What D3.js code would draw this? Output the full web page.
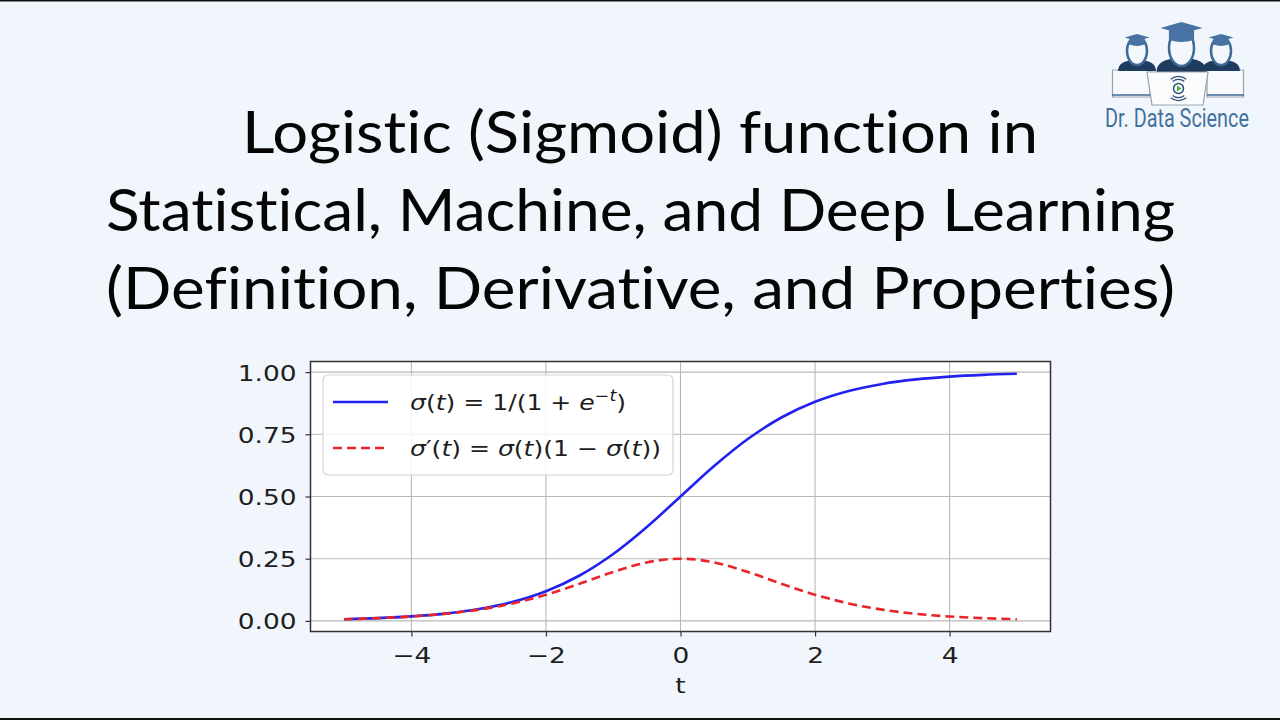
<!DOCTYPE html>
<html><head><meta charset="utf-8">
<script src="https://cdn.jsdelivr.net/npm/d3@7"></script>
<style>html,body{margin:0;padding:0;background:#f1f6fc;} svg{display:block} text{font-variant-ligatures:none;}</style>
</head><body>
<svg id="c" width="1280" height="720"></svg>
<script>
// ---- data ----
const titleLines = [
  "Logistic (Sigmoid) function in",
  "Statistical, Machine, and Deep Learning",
  "(Definition, Derivative, and Properties)"
];
const tValues = [-5,-4.5,-4,-3.5,-3,-2.5,-2,-1.5,-1,-0.5,0,0.5,1,1.5,2,2.5,3,3.5,4,4.5,5];
const sigmoidValues = [0.0067,0.0110,0.0180,0.0293,0.0474,0.0759,0.1192,0.1824,0.2689,0.3775,0.5000,
                       0.6225,0.7311,0.8176,0.8808,0.9241,0.9526,0.9707,0.9820,0.9890,0.9933];
const derivativeValues = [0.0066,0.0109,0.0177,0.0285,0.0452,0.0701,0.1050,0.1491,0.1966,0.2350,0.2500,
                          0.2350,0.1966,0.1491,0.1050,0.0701,0.0452,0.0285,0.0177,0.0109,0.0066];
const xTicks = [-4,-2,0,2,4];
const xTickLabels = ["\u22124","\u22122","0","2","4"];
const yTicks = [0,0.25,0.5,0.75,1];
const yTickLabels = ["0.00","0.25","0.50","0.75","1.00"];
const xLabel = "t";
const logoText = "Dr. Data Science";

// ---- layout ----
const svg = d3.select("#c");
const W = 1280, H = 720;
const L = 310.5, R = 1050.5, T = 361.5, B = 631.5;
const SX = 1.2;          // horizontal stretch of the pasted plot
const FS = 22;           // plot font size

svg.append("rect").attr("width", W).attr("height", H).attr("fill", "#f1f6fc");
svg.append("rect").attr("x",0).attr("y",0).attr("width",W).attr("height",1.5).attr("fill","#111");
svg.append("rect").attr("x",0).attr("y",718).attr("width",W).attr("height",2).attr("fill","#111");

// ---- title ----
const titleSpec = [
  {y:153, x0:242, x1:1038},
  {y:231, x0:106, x1:1175},
  {y:309, x0:106, x1:1175}
];
svg.append("g").selectAll("text").data(titleLines).join("text")
  .attr("x", (d,i)=>titleSpec[i].x0)
  .attr("y", (d,i)=>titleSpec[i].y)
  .attr("textLength", (d,i)=>titleSpec[i].x1 - titleSpec[i].x0)
  .attr("lengthAdjust", "spacingAndGlyphs")
  .attr("font-family", "Lato, 'Open Sans', sans-serif")
  .attr("font-size", 59)
  .attr("fill", "#050505")
  .text(d=>d);

// ---- logo ----
const logo = svg.append("g");
const navy = "#1f3b5e", capC = "#4673a3", headStroke = "#3d6a99";
logo.append("path").attr("d","M1112.5,70 L1150,70 L1150,97 L1112.5,97 Z")
  .attr("fill","#f7f9fc").attr("stroke","#9aa3ad").attr("stroke-width",1.2);
logo.append("path").attr("d","M1207,70 L1243.5,70 L1243.5,97 L1207,97 Z")
  .attr("fill","#f7f9fc").attr("stroke","#9aa3ad").attr("stroke-width",1.2);
logo.append("line").attr("x1",1112).attr("x2",1150).attr("y1",95).attr("y2",95).attr("stroke","#3d6a99").attr("stroke-width",1.5);
logo.append("line").attr("x1",1207).attr("x2",1244).attr("y1",95).attr("y2",95).attr("stroke","#3d6a99").attr("stroke-width",1.5);
const people = [
  {cx:1137, cy:51, rx:10, ry:14, sw:38, sTop:62, sBot:71, capW:25, capY:34},
  {cx:1221, cy:51, rx:10, ry:14, sw:38, sTop:62, sBot:71, capW:25, capY:34},
  {cx:1181.5, cy:48, rx:12.5, ry:18, sw:50, sTop:60, sBot:72, capW:42, capY:22}
];
people.forEach(p=>{
  logo.append("path")
    .attr("d", `M${p.cx-p.sw/2},${p.sBot} Q${p.cx-p.sw/2},${p.sTop-2} ${p.cx},${p.sTop-2} Q${p.cx+p.sw/2},${p.sTop-2} ${p.cx+p.sw/2},${p.sBot} Z`)
    .attr("fill", navy);
  logo.append("ellipse").attr("cx",p.cx).attr("cy",p.cy).attr("rx",p.rx).attr("ry",p.ry)
    .attr("fill","#f4f8fd").attr("stroke",headStroke).attr("stroke-width",2.5);
  const h = p.capW*0.28;
  logo.append("path")
    .attr("d", `M${p.cx-p.capW/2},${p.capY+h/2} L${p.cx},${p.capY} L${p.cx+p.capW/2},${p.capY+h/2} L${p.cx},${p.capY+h} Z`)
    .attr("fill", capC);
  logo.append("path")
    .attr("d", `M${p.cx-p.capW*0.3},${p.capY+h*0.7} L${p.cx-p.capW*0.3},${p.capY+h*1.5} Q${p.cx},${p.capY+h*1.9} ${p.cx+p.capW*0.3},${p.capY+h*1.5} L${p.cx+p.capW*0.3},${p.capY+h*0.7} Z`)
    .attr("fill", capC);
});
logo.append("path").attr("d","M1147,72 L1208,72 L1203,105 L1152,105 Z")
  .attr("fill","#fbfcfe").attr("stroke","#9aa3ad").attr("stroke-width",1.2);
logo.append("circle").attr("cx",1178.5).attr("cy",88.5).attr("r",5).attr("fill","#fff").attr("stroke","#2e4f75").attr("stroke-width",1.5);
logo.append("path").attr("d","M1177,85.5 L1181.5,88.5 L1177,91.5 Z").attr("fill","#3cb043");
[8.5, 11.5].forEach(r=>{
  logo.append("path").attr("d", d3.arc()({innerRadius:r, outerRadius:r+1.2, startAngle:-0.7, endAngle:0.7})).attr("transform","translate(1178.5,88.5)").attr("fill","#2e4f75");
  logo.append("path").attr("d", d3.arc()({innerRadius:r, outerRadius:r+1.2, startAngle:Math.PI-0.7, endAngle:Math.PI+0.7})).attr("transform","translate(1178.5,88.5)").attr("fill","#2e4f75");
});
const lt = logo.append("text").attr("transform","translate(1105,127)")
  .attr("font-family","Roboto, sans-serif").attr("font-size",25).attr("fill","#44709c").text(logoText);
const ltw = lt.node().getComputedTextLength();
lt.attr("transform",`translate(1105,127) scale(${144/ltw},1)`);

// ---- plot ----
const x = d3.scaleLinear().domain([-5.5,5.5]).range([L,R]);
const y = d3.scaleLinear().domain([-0.0427,1.0427]).range([B,T]);

svg.append("rect").attr("x",L).attr("y",T).attr("width",R-L).attr("height",B-T).attr("fill","#fff");

const grid = svg.append("g").attr("stroke","#b8b8b8").attr("stroke-width",1.1);
grid.selectAll(".gx").data(xTicks).join("line")
  .attr("x1",d=>x(d)).attr("x2",d=>x(d)).attr("y1",T).attr("y2",B);
grid.selectAll(".gy").data(yTicks).join("line")
  .attr("y1",d=>y(d)).attr("y2",d=>y(d)).attr("x1",L).attr("x2",R);

const pts1 = tValues.map((t,i)=>[t, sigmoidValues[i]]);
const pts2 = tValues.map((t,i)=>[t, derivativeValues[i]]);
const line = d3.line().x(d=>x(d[0])).y(d=>y(d[1])).curve(d3.curveCatmullRom.alpha(0.5));
svg.append("path").attr("d", line(pts1)).attr("fill","none")
  .attr("stroke","#2222ee").attr("stroke-width",2.6);
svg.append("path").attr("d", line(pts2)).attr("fill","none")
  .attr("stroke","#e8262a").attr("stroke-width",2.6).attr("stroke-dasharray","9,5");

const axisColor = "#333";
const xAxis = svg.append("g").attr("transform",`translate(0,${B})`)
  .call(d3.axisBottom(x).tickValues(xTicks).tickFormat((d,i)=>xTickLabels[i]).tickSize(5).tickSizeOuter(0));
const yAxis = svg.append("g").attr("transform",`translate(${L},0)`)
  .call(d3.axisLeft(y).tickValues(yTicks).tickFormat((d,i)=>yTickLabels[i]).tickSize(5).tickSizeOuter(0));
[xAxis,yAxis].forEach(a=>{
  a.select(".domain").remove();
  a.selectAll(".tick line").attr("stroke",axisColor).attr("stroke-width",1.2);
  a.selectAll("text").attr("font-family","'DejaVu Sans', sans-serif").attr("font-size",FS).attr("fill","#1e1e1e");
});
xAxis.selectAll("text").attr("y",null).attr("dy",null)
  .attr("transform",`translate(0,31) scale(${SX},1)`);
yAxis.selectAll("text").attr("x",null).attr("dy",null)
  .attr("transform",`translate(-14,8) scale(${SX},1)`).attr("text-anchor","end");

svg.append("rect").attr("x",L).attr("y",T).attr("width",R-L).attr("height",B-T)
  .attr("fill","none").attr("stroke",axisColor).attr("stroke-width",1.5);

svg.append("text").attr("transform",`translate(${x(0)},693) scale(${SX},1)`).attr("text-anchor","middle")
  .attr("font-family","'DejaVu Sans', sans-serif").attr("font-size",FS).attr("fill","#1e1e1e").text(xLabel);

// legend
const lg = svg.append("g");
lg.append("rect").attr("x",323).attr("y",375).attr("width",350).attr("height",100).attr("rx",5)
  .attr("fill","#fff").attr("fill-opacity",0.85).attr("stroke","#d4d4d4").attr("stroke-width",1.2);
lg.append("line").attr("x1",333).attr("x2",388).attr("y1",402).attr("y2",402)
  .attr("stroke","#2222ee").attr("stroke-width",2.6);
lg.append("line").attr("x1",333).attr("x2",388).attr("y1",448).attr("y2",448)
  .attr("stroke","#e8262a").attr("stroke-width",2.6).attr("stroke-dasharray","9,5");

const legendRows = [
  [["σ","i"],["(",""],["t","i"],[") = 1/(1 + ",""],["e","i"],["\u2212","sup"],["t","supi"],[")","base"]],
  [["σ","i"],["\u2032",""],["(",""],["t","i"],[") = ",""],["σ","i"],["(",""],["t","i"],[")(1 \u2212 ",""],["σ","i"],["(",""],["t","i"],["))",""]]
];
const legendY = [410, 456];
const LSX = 1.14;
legendRows.forEach((row,ri)=>{
  const tx = lg.append("text").attr("transform",`translate(410,${legendY[ri]}) scale(${LSX},1)`)
    .attr("font-family","'DejaVu Sans', sans-serif").attr("font-size",FS).attr("fill","#1e1e1e")
    .attr("xml:space","preserve").style("white-space","pre");
  row.forEach(([s,k])=>{
    const ts = tx.append("tspan").text(s);
    if (k==="i") ts.attr("font-style","italic");
    if (k==="sup") ts.attr("font-size",FS*0.7).attr("dy",-9);
    if (k==="supi") ts.attr("font-size",FS*0.7).attr("font-style","italic");
    if (k==="base") ts.attr("dy",9);
  });
});
</script>
</body></html>
